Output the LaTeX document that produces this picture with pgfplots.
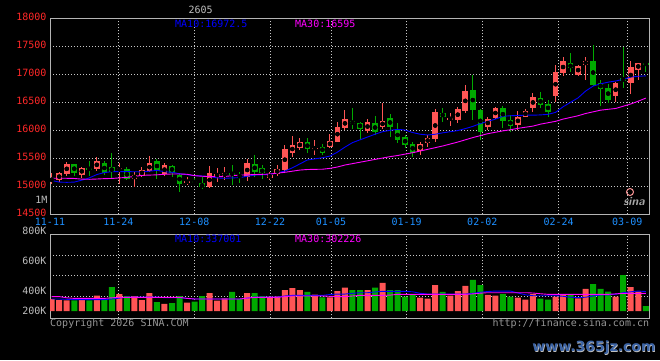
\documentclass[border=0pt]{standalone}
\usepackage{pgfplots}
\pgfplotsset{compat=1.18}
\usepackage{pgfplotstable}
\usepackage{fontspec}
\setmainfont{DejaVu Sans}
\newfontfamily\mono{DejaVu Sans Mono}
\definecolor{kred}{RGB}{255,85,85}
\definecolor{kgreen}{RGB}{0,170,0}
\definecolor{mablue}{RGB}{0,0,255}
\definecolor{mamag}{RGB}{255,0,255}
\definecolor{pricered}{RGB}{255,40,40}
\definecolor{dateblue}{RGB}{30,144,255}
\definecolor{labgray}{RGB}{190,190,190}
\definecolor{copygray}{RGB}{150,150,150}
\definecolor{axisgray}{RGB}{180,180,180}
\definecolor{gridgray}{RGB}{200,200,200}
\definecolor{wmblue}{RGB}{60,100,165}

\pgfplotstableread{
i o h l c v
0 15095 15244 15041 15140 80
1 15107 15256 15077 15238 73
2 15226 15440 15178 15398 71
4 15208 15351 15143 15327 80
6 15315 15517 15279 15452 102
9 15285 15410 15041 15321 113
11 15125 15250 14982 15208 100
12 15190 15339 15160 15291 73
13 15270 15541 15256 15415 120
15 15214 15422 15184 15381 47
18 15077 15160 15023 15089 56
21 14982 15363 14976 15244 120
22 15196 15321 15083 15208 69
23 15172 15351 15113 15244 84
26 15172 15482 15095 15410 120
29 15150 15250 15110 15210 96
30 15220 15375 15180 15315 98
31 15290 15740 15250 15660 140
32 15595 15898 15517 15737 153
33 15690 15860 15650 15790 140
35 15672 15827 15559 15690 109
37 15708 15928 15678 15809 91
38 15797 16154 15790 16065 133
39 16047 16362 16005 16202 156
42 15993 16202 15950 16142 140
44 16065 16493 16017 16166 187
49 15636 15797 15559 15755 89
50 15767 15916 15708 15868 82
51 15838 16374 15797 16333 173
53 16195 16303 16085 16215 102
54 16184 16422 16124 16374 133
55 16350 16809 16303 16701 167
58 16065 16243 16005 16196 107
59 16214 16422 16196 16404 102
62 16094 16350 16005 16243 89
63 16243 16374 16231 16350 76
64 16400 16660 16333 16595 113
67 16610 17160 16505 17035 96
68 17015 17304 16976 17245 113
70 16995 17167 16964 17155 84
71 17160 17315 16893 17245 147
75 16610 16857 16512 16840 96
77 16850 17240 16649 17125 160
78 17085 17210 16905 17195 129
}\upT

\pgfplotstableread{
i o h l c v
3 15398 15404 15190 15232 71
5 15327 15452 15190 15297 71
7 15422 15458 15196 15232 76
8 15345 15589 15125 15250 160
10 15303 15339 15107 15125 100
14 15452 15488 15131 15273 60
16 15365 15380 15175 15240 53
17 15208 15232 14904 15050 100
19 15101 15149 15053 15053 62
20 15053 15172 14952 14980 100
24 15244 15381 15023 15202 127
25 15190 15261 15065 15172 80
27 15398 15559 15172 15261 120
28 15321 15381 15125 15232 100
34 15791 15856 15600 15660 127
36 15708 15750 15559 15600 91
40 16166 16404 16023 16106 140
41 16136 16154 15827 16023 140
43 16124 16255 15916 15975 156
45 16214 16285 15886 16065 140
46 16005 16124 15767 15827 140
47 15874 15916 15678 15737 96
48 15755 15797 15517 15600 111
52 16315 16392 16154 16231 127
56 16719 16987 16184 16362 207
57 16362 16374 15827 15975 173
60 16404 16434 16035 16172 113
61 16184 16273 15975 16083 96
65 16580 16678 16392 16452 82
66 16470 16541 16243 16330 76
69 17195 17375 17050 17105 107
72 17245 17530 16800 16818 180
73 16850 16899 16441 16730 147
74 16760 16827 16488 16550 129
76 16930 17490 16760 16885 240
79 17210 17226 17048 17160 33
}\dnT

\pgfplotstableread{
i ma10 ma30 v10 v30
0 15105 15143 80 96
1 15075 15143 80 96
2 15071 15143 78 88
3 15075 15140 76 84
4 15110 15128 76 84
5 15150 15125 76 84
6 15210 15130 76 84
7 15245 15137 76 84
8 15262 15140 80 88
9 15262 15150 86 91
10 15262 15160 93 91
11 15260 15175 93 91
12 15258 15196 93 91
13 15270 15200 93 91
14 15285 15205 93 91
15 15260 15215 89 91
16 15250 15220 89 91
17 15225 15220 89 91
18 15208 15215 84 84
19 15190 15190 80 80
20 15184 15180 80 80
21 15175 15172 80 80
22 15150 15172 80 80
23 15143 15175 80 80
24 15150 15190 80 80
25 15155 15200 80 80
26 15180 15205 86 86
27 15200 15210 93 91
28 15205 15214 93 91
29 15214 15218 93 91
30 15240 15235 93 91
31 15272 15250 100 96
32 15330 15270 104 100
33 15400 15290 104 100
34 15470 15300 104 100
35 15490 15303 104 100
36 15510 15305 104 100
37 15540 15320 110 98
38 15610 15345 113 96
39 15700 15380 113 96
40 15780 15405 118 100
41 15830 15430 122 104
42 15880 15455 122 104
43 15930 15480 127 104
44 15975 15505 131 104
45 16000 15530 131 106
46 16017 15550 131 111
47 16005 15575 131 111
48 15960 15600 128 111
49 15930 15630 118 111
50 15916 15660 113 111
51 15930 15690 113 111
52 15955 15720 113 111
53 15975 15755 113 111
54 15995 15790 113 111
55 16030 15830 113 111
56 16070 15870 118 114
57 16120 15905 125 119
58 16160 15940 130 122
59 16200 15965 133 122
60 16250 15990 133 122
61 16260 16010 133 122
62 16265 16035 120 122
63 16270 16055 108 122
64 16270 16075 102 120
65 16275 16110 102 115
66 16285 16135 102 111
67 16320 16160 102 111
68 16420 16200 98 111
69 16500 16230 92 111
70 16580 16260 89 111
71 16700 16300 92 111
72 16790 16330 100 111
73 16830 16360 107 111
74 16860 16375 107 111
75 16880 16390 112 114
76 16910 16430 122 118
77 16950 16470 128 118
78 16965 16520 133 118
79 16972 16575 130 118
}\maT

\pgfplotsset{
  kbase/.style={
    scale only axis, width=599pt,
    xmin=-0.226, xmax=79.43,
    scaled x ticks=false, scaled y ticks=false,
    axis line style={draw=axisgray, line width=0.8pt},
    major tick length=0pt, minor tick length=0pt,
    grid=major,
    major grid style={draw=gridgray, line width=0.6pt, dash pattern=on 1pt off 2pt},
    axis background/.style={fill=black},
    xtick={-0.226,8.86,18.96,29.03,37.14,47.20,57.26,67.42,76.54},
  },
  wick/.style={only marks, mark=none, forget plot,
    error bars/.cd, y dir=both, y explicit, error mark=none,
    error bar style={draw=#1, line width=1pt}},
  body/.style={only marks, mark=none, forget plot,
    error bars/.cd, y dir=both, y explicit, error mark=none,
    error bar style={draw=#1, line width=5.6pt}},
}

\newcommand{\mf}{\mono\fontsize{10}{11}\selectfont}

\begin{document}
\begin{tikzpicture}
\fill[black] (0pt,0pt) rectangle (660pt,360pt);

% ---------------- price panel ----------------
\begin{axis}[kbase, at={(50pt,145.7pt)}, anchor=south west, height=196pt,
  ymin=14500, ymax=18000,
  ytick={14500,15000,15500,16000,16500,17000,17500,18000},
  yticklabels={14500,15000,15500,16000,16500,17000,17500,18000},
  yticklabel style={font=\mf, text=pricered, anchor=east, inner sep=0pt, xshift=-3.3pt, yshift=1pt},
  xticklabels={11-11,11-24,12-08,12-22,01-05,01-19,02-02,02-24,03-09},
  xticklabel style={font=\mf, text=dateblue, anchor=north, inner sep=0pt, yshift=-3.5pt},
]
\addplot[wick=kred] table[x=i, y expr={(\thisrow{o}+\thisrow{c})/2},
  y error plus expr={\thisrow{h}-(\thisrow{o}+\thisrow{c})/2},
  y error minus expr={(\thisrow{o}+\thisrow{c})/2-\thisrow{l}}] {\upT};
\addplot[wick=kgreen] table[x=i, y expr={(\thisrow{o}+\thisrow{c})/2},
  y error plus expr={\thisrow{h}-(\thisrow{o}+\thisrow{c})/2},
  y error minus expr={(\thisrow{o}+\thisrow{c})/2-\thisrow{l}}] {\dnT};
\addplot[body=kred] table[x=i, y expr={(\thisrow{o}+\thisrow{c})/2},
  y error expr={max(abs(\thisrow{c}-\thisrow{o})/2,9)}] {\upT};
\addplot[body=kgreen] table[x=i, y expr={(\thisrow{o}+\thisrow{c})/2},
  y error expr={max(abs(\thisrow{c}-\thisrow{o})/2,9)}] {\dnT};
\addplot[draw=mablue, line width=0.9pt, mark=none] table[x=i, y=ma10] {\maT};
\addplot[draw=mamag, line width=0.9pt, mark=none] table[x=i, y=ma30] {\maT};
\end{axis}

% ---------------- volume panel ----------------
\begin{axis}[kbase, at={(50pt,41.7pt)}, anchor=south west, height=84pt,
  ymin=-48.7, ymax=511.3,
  ytick={100,235,371}, yticklabels={},
  xticklabels={},
]
\addplot[ybar, bar width=6pt, bar shift=0pt, fill=kred, draw=none] table[x=i, y=v] {\upT};
\addplot[ybar, bar width=6pt, bar shift=0pt, fill=kgreen, draw=none] table[x=i, y=v] {\dnT};
\addplot[draw=mablue, line width=0.9pt, mark=none] table[x=i, y=v10] {\maT};
\addplot[draw=mamag, line width=0.9pt, mark=none] table[x=i, y=v30] {\maT};
\end{axis}

% ---------------- texts ----------------
\node[font=\mf, text=labgray] at (200.7pt,350pt) {2605};
\node[font=\mf, text=mablue, anchor=west, inner sep=0pt] at (175pt,336pt) {MA10:16972.5};
\node[font=\mf, text=mamag, anchor=west, inner sep=0pt] at (295pt,336pt) {MA30:16595};
\node[font=\mf, text=mablue, anchor=west, inner sep=0pt] at (175pt,121pt) {MA10:337001};
\node[font=\mf, text=mamag, anchor=west, inner sep=0pt] at (295pt,121pt) {MA30:302226};

\node[font=\mf, text=labgray, anchor=east, inner sep=0pt] at (47.5pt,159.7pt) {1M};
\node[font=\mf, text=labgray, anchor=east, inner sep=0pt] at (46.7pt,129.5pt) {800K};
\node[font=\mf, text=labgray, anchor=east, inner sep=0pt] at (46.7pt,99.5pt) {600K};
\node[font=\mf, text=labgray, anchor=east, inner sep=0pt] at (46.7pt,69.5pt) {400K};
\node[font=\mf, text=labgray, anchor=east, inner sep=0pt] at (46.7pt,49pt) {200K};

\node[font=\mf, text=copygray, anchor=base west, inner sep=0pt] at (50pt,33.3pt) {Copyright 2026 SINA.COM};
\node[font=\mf, text=copygray, anchor=base east, inner sep=0pt] at (649.3pt,33.3pt) {http://finance.sina.com.cn};

\draw[kred!60, line width=1pt] (630pt,168pt) circle (3.5pt);
\node[font=\sffamily\bfseries\itshape\fontsize{12}{12}\selectfont, text=gray!70] at (634pt,158pt) {sina};

\node[font=\bfseries\fontsize{14}{14}\selectfont, text=gray!50] at (594.6pt,11.4pt) {www.365jz.com};
\node[font=\bfseries\fontsize{14}{14}\selectfont, text=wmblue] at (594pt,12pt) {www.365jz.com};

\pgfresetboundingbox
\path[use as bounding box] (0pt,0pt) rectangle (660pt,360pt);
\end{tikzpicture}
\end{document}
